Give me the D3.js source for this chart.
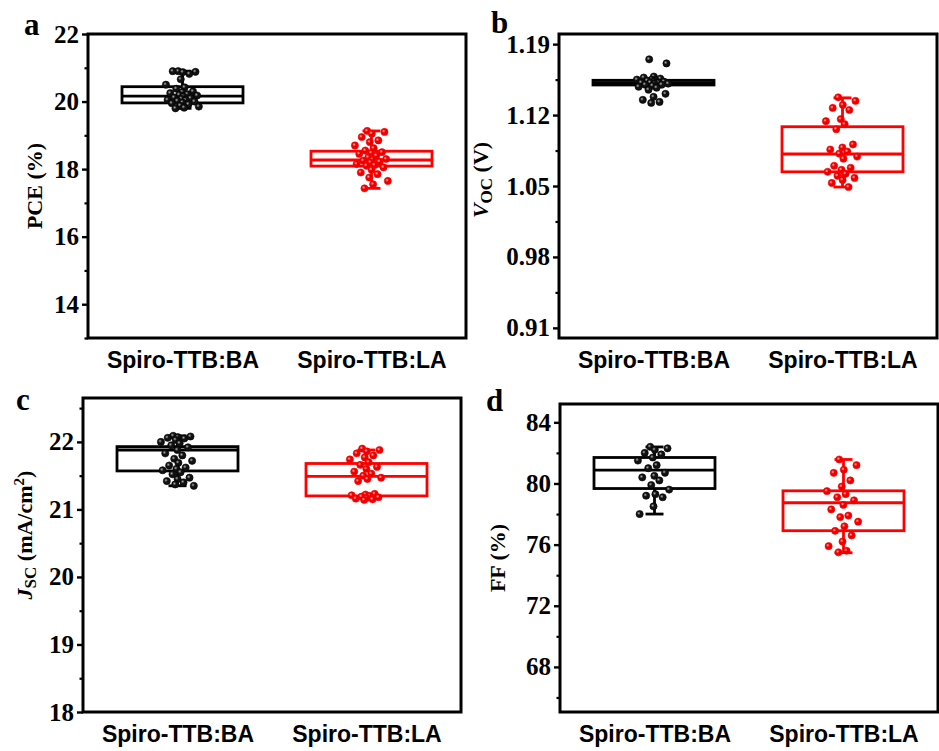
<!DOCTYPE html>
<html>
<head>
<meta charset="utf-8">
<script src="https://cdn.jsdelivr.net/npm/d3@7"></script>
<style>
  html, body { margin: 0; padding: 0; background: #fff; }
  svg { display: block; }
</style>
</head>
<body>
<svg id="chart" width="939" height="751"></svg>
<script>
// Device groups
const groups = ["Spiro-TTB:BA", "Spiro-TTB:LA"];

// PCE (%)
const pceBA = [20.9, 20.88, 20.87, 20.9, 20.82, 20.66, 20.5, 20.42, 20.38, 20.3, 20.28, 20.25, 20.22, 20.2, 20.18,
               20.15, 20.12, 20.1, 20.08, 20.05, 20.04, 20.02, 20.0, 19.97, 19.95, 19.92, 19.88, 19.85, 19.82, 19.8];
const pceLA = [19.13, 19.1, 19.05, 18.95, 18.85, 18.8, 18.7, 18.62, 18.55, 18.5, 18.48, 18.45, 18.4, 18.35, 18.3,
               18.28, 18.25, 18.22, 18.2, 18.15, 18.12, 18.1, 18.05, 17.98, 17.9, 17.85, 17.75, 17.65, 17.55, 17.43];
// box stats: [whisker low, Q1, median, Q3, whisker high]
const pceBoxBA = [19.8, 19.96, 20.16, 20.44, 20.9];
const pceBoxLA = [17.43, 18.09, 18.27, 18.53, 19.13];
const pceTicks = [14, 16, 18, 20, 22];

// Voc (V)
const vocBA = [1.175, 1.171, 1.158, 1.157, 1.156, 1.155, 1.155, 1.154, 1.154, 1.153, 1.153, 1.152, 1.152, 1.152,
               1.151, 1.151, 1.150, 1.150, 1.149, 1.148, 1.147, 1.145, 1.141, 1.138, 1.135, 1.133, 1.132];
const vocLA = [1.1375, 1.134, 1.130, 1.127, 1.125, 1.116, 1.114, 1.111, 1.106, 1.091, 1.088, 1.086, 1.084, 1.082,
               1.079, 1.077, 1.070, 1.068, 1.066, 1.064, 1.062, 1.060, 1.058, 1.056, 1.053, 1.049];
const vocBoxBA = [1.1495, 1.1497, 1.152, 1.1543, 1.1545];
const vocBoxLA = [1.049, 1.064, 1.0816, 1.1085, 1.137];
const vocTicks = [0.91, 0.98, 1.05, 1.12, 1.19];

// Jsc (mA/cm2)
const jscBA = [22.09, 22.08, 22.07, 22.06, 22.05, 22.03, 22.0, 21.98, 21.95, 21.92, 21.88, 21.83, 21.8, 21.75, 21.72,
               21.69, 21.65, 21.62, 21.6, 21.58, 21.55, 21.52, 21.47, 21.45, 21.42, 21.4, 21.37, 21.35];
const jscLA = [21.9, 21.88, 21.86, 21.83, 21.8, 21.77, 21.74, 21.7, 21.66, 21.63, 21.6, 21.56, 21.53, 21.5, 21.47,
               21.45, 21.42, 21.23, 21.22, 21.21, 21.2, 21.19, 21.18, 21.17, 21.16, 21.15, 21.14];
const jscBoxBA = [21.35, 21.57, 21.88, 21.93, 22.09];
const jscBoxLA = [21.19, 21.2, 21.49, 21.68, 21.88];
const jscTicks = [18, 19, 20, 21, 22];

// FF (%)
const ffBA = [82.4, 82.3, 82.2, 82.0, 81.9, 81.7, 81.5, 81.2, 81.0, 80.7, 80.5, 80.4, 80.2, 79.9, 79.6,
              79.3, 79.2, 79.1, 78.5, 78.0];
const ffLA = [81.57, 81.2, 80.9, 80.7, 80.2, 79.8, 79.5, 79.3, 79.1, 78.9, 78.6, 78.3, 77.9, 77.8, 77.5,
              77.2, 76.9, 76.6, 76.2, 75.9, 75.6, 75.5];
const ffBoxBA = [78.0, 79.67, 80.87, 81.7, 82.39];
const ffBoxLA = [75.47, 76.91, 78.74, 79.52, 81.57];
const ffTicks = [68, 72, 76, 80, 84];

const colors = ["#000000", "#ff0000"];
const serif = "'Liberation Serif', 'Times New Roman', serif";
const sans = "'Liberation Sans', Arial, sans-serif";

const svg = d3.select("#chart");

// sphere-like shading for the scatter points
const defs = svg.append("defs");
[["ballBlack", "#b0b0b0", "#111111"], ["ballRed", "#ffb0b0", "#ee0000"]].forEach(([id, hi, base]) => {
  const g = defs.append("radialGradient").attr("id", id)
    .attr("cx", "38%").attr("cy", "38%").attr("r", "62%");
  g.append("stop").attr("offset", "0%").attr("stop-color", hi);
  g.append("stop").attr("offset", "40%").attr("stop-color", base);
  g.append("stop").attr("offset", "100%").attr("stop-color", base);
});
const ballFill = ["url(#ballBlack)", "url(#ballRed)"];

const panels = [
  { letter: "a", left: 88, top: 34, width: 378, height: 304, domain: [13, 22], ticks: pceTicks, fmt: d3.format("d"),
    minor: 1, series: [pceBA, pceLA], boxes: [pceBoxBA, pceBoxLA], title: "pce", titleX: 42, titleY: 186, letterX: 24, letterY: 35 },
  { letter: "b", left: 559, top: 34, width: 378, height: 304, domain: [0.9, 1.2], ticks: vocTicks, fmt: d3.format(".2f"),
    minor: 0.035, series: [vocBA, vocLA], boxes: [vocBoxBA, vocBoxLA], title: "voc", titleX: 488, titleY: 180, letterX: 491, letterY: 33 },
  { letter: "c", left: 83, top: 398, width: 378, height: 314, domain: [18, 22.65], ticks: jscTicks, fmt: d3.format("d"),
    minor: 0.5, series: [jscBA, jscLA], boxes: [jscBoxBA, jscBoxLA], title: "jsc", titleX: 32, titleY: 535, letterX: 16, letterY: 410 },
  { letter: "d", left: 560, top: 404, width: 378, height: 308, domain: [65.05, 85.2], ticks: ffTicks, fmt: d3.format("d"),
    minor: 2, series: [ffBA, ffLA], boxes: [ffBoxBA, ffBoxLA], title: "ff", titleX: 505, titleY: 558, letterX: 486, letterY: 411 }
];

function drawTitle(g, kind) {
  const t = g.append("text")
    .attr("text-anchor", "middle")
    .attr("transform", "rotate(-90)")
    .style("font-family", serif).style("font-weight", "bold").style("font-size", "22px");
  if (kind === "pce") t.text("PCE (%)");
  if (kind === "ff") t.text("FF (%)");
  if (kind === "voc") {
    t.append("tspan").style("font-style", "italic").text("V");
    t.append("tspan").attr("baseline-shift", "-25%").style("font-size", "17px").text("OC");
    t.append("tspan").text(" (V)");
  }
  if (kind === "jsc") {
    t.append("tspan").style("font-style", "italic").text("J");
    t.append("tspan").attr("baseline-shift", "-25%").style("font-size", "17px").text("SC");
    t.append("tspan").text(" (mA/cm");
    t.append("tspan").attr("baseline-shift", "super").style("font-size", "15px").text("2");
    t.append("tspan").text(")");
  }
}

panels.forEach(p => {
  const g = svg.append("g").attr("transform", `translate(${p.left},${p.top})`);
  const y = d3.scaleLinear().domain(p.domain).range([p.height, 0]);
  const x = d3.scalePoint().domain(groups).range([0, p.width]).padding(0.5);
  const boxW = 121, capW = 18;

  // minor ticks
  const minorVals = d3.range(p.ticks[0] - p.minor, p.domain[1] + 1e-9, p.minor)
    .filter(v => v >= p.domain[0] - 1e-9 && !p.ticks.some(t => Math.abs(t - v) < 1e-6));
  g.append("g").call(d3.axisLeft(y).tickValues(minorVals).tickSize(3.5).tickFormat(""))
    .call(a => a.select(".domain").remove())
    .call(a => a.selectAll("line").attr("stroke-width", 2.2));

  // major ticks + labels
  g.append("g").call(d3.axisLeft(y).tickValues(p.ticks).tickSize(6).tickPadding(3).tickFormat(p.fmt))
    .call(a => a.select(".domain").remove())
    .call(a => a.selectAll("line").attr("stroke-width", 2.4))
    .call(a => a.selectAll("text").attr("font-family", null).attr("font-size", null)
      .style("font-family", serif).style("font-weight", "700").style("font-size", "25px").attr("fill", "#000"));

  // category labels
  g.append("g").attr("transform", `translate(0,${p.height})`)
    .call(d3.axisBottom(x).tickSize(0).tickPadding(14))
    .call(a => a.select(".domain").remove())
    .call(a => a.selectAll("text").attr("font-family", null).attr("font-size", null)
      .style("font-family", sans).style("font-weight", "700").style("font-size", "23px").attr("fill", "#000"));

  // boxes
  p.boxes.forEach((b, i) => {
    const cx = x(groups[i]);
    const bg = g.append("g").attr("stroke", colors[i]).attr("fill", "none").attr("stroke-width", 2.8);
    bg.append("line").attr("x1", cx).attr("x2", cx).attr("y1", y(b[0])).attr("y2", y(b[1]));
    bg.append("line").attr("x1", cx).attr("x2", cx).attr("y1", y(b[3])).attr("y2", y(b[4]));
    bg.append("line").attr("x1", cx - capW / 2).attr("x2", cx + capW / 2).attr("y1", y(b[0])).attr("y2", y(b[0]));
    bg.append("line").attr("x1", cx - capW / 2).attr("x2", cx + capW / 2).attr("y1", y(b[4])).attr("y2", y(b[4]));
    bg.append("rect").attr("x", cx - boxW / 2).attr("width", boxW)
      .attr("y", y(b[3])).attr("height", Math.max(0, y(b[1]) - y(b[3])));
    bg.append("line").attr("x1", cx - boxW / 2).attr("x2", cx + boxW / 2).attr("y1", y(b[2])).attr("y2", y(b[2]));
  });

  // scatter points with a fixed, evenly spread horizontal jitter
  p.series.forEach((vals, i) => {
    const cx = x(groups[i]);
    g.append("g").selectAll("circle").data(vals).join("circle")
      .attr("cx", (d, k) => {
        const u = ((k * 0.618034 + 0.3) % 1) - 0.5;
        return cx + Math.sign(u) * Math.pow(Math.abs(u) * 2, 1.5) * 17;
      })
      .attr("cy", d => y(d))
      .attr("r", 3.6)
      .attr("fill", ballFill[i])
      .attr("stroke", colors[i]).attr("stroke-width", 0.6);
  });

  // frame
  g.append("rect").attr("width", p.width).attr("height", p.height)
    .attr("fill", "none").attr("stroke", "#000").attr("stroke-width", 3);

  // axis title
  const tg = svg.append("g").attr("transform", `translate(${p.titleX},${p.titleY})`);
  drawTitle(tg, p.title);

  // panel letter
  svg.append("text").attr("x", p.letterX).attr("y", p.letterY)
    .style("font-family", serif).style("font-weight", "bold").style("font-size", "31px")
    .text(p.letter);
});
</script>
</body>
</html>
